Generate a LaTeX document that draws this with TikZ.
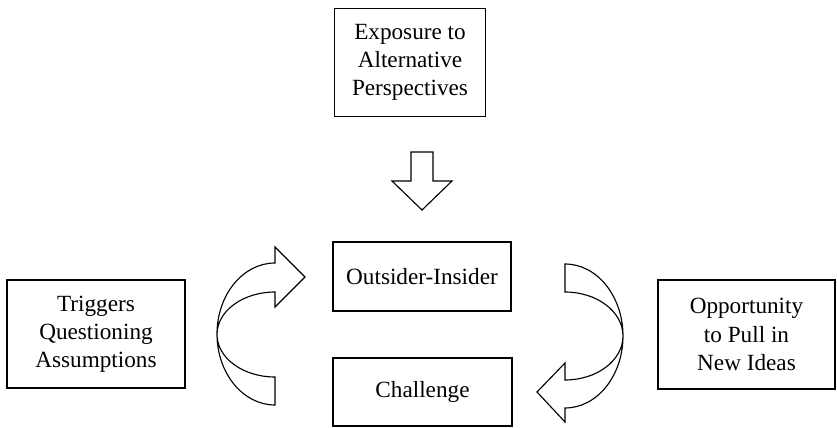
\documentclass[tikz,border=0pt]{standalone}
\usepackage{fontspec}
\setmainfont{Liberation Serif}
\usepackage{tikz}

\begin{document}
\begin{tikzpicture}[x=0.025cm, y=0.025cm,
    box/.style={draw, line width=0.8pt, align=center, inner sep=0pt,
        font=\fontsize{16.5}{20}\selectfont},
    bigarrow/.style={draw, line width=0.8pt, line join=miter}]

    % Cadre de l'image
    \useasboundingbox (0,0) rectangle (837,428);

    % Boites
    \node[box, minimum width=3.775cm, minimum height=2.7cm] (expo) at (410,365.5) {Exposure to\\Alternative\\Perspectives};
    \node[box, minimum width=4.45cm, minimum height=1.725cm] (outins) at (422,151.5) {Outsider-Insider};
    \node[box, minimum width=4.475cm, minimum height=1.7cm] (chal) at (422.5,36) {Challenge};
    \node[box, minimum width=4.45cm, minimum height=2.7cm] (trig) at (96,94) {Triggers\\Questioning\\Assumptions};
    \node[box, minimum width=4.425cm, minimum height=2.725cm] (oppo) at (746.5,93.5) {Opportunity\\to Pull in\\New Ideas};

    % Fleche vers le bas
    \draw[bigarrow] (411,276) -- (433,276) -- (433,247) -- (452,247) -- (422,218)
        -- (392,247) -- (411,247) -- cycle;

    % Fleche courbe a gauche
    \draw[bigarrow] (275,23) arc[start angle=270, end angle=90, x radius=58, y radius=71]
        -- (275,181) -- (305,151) -- (275,121) -- (275,136)
        arc[start angle=90, end angle=270, x radius=58, y radius=42.5] -- cycle;

    % Fleche courbe a droite
    \draw[bigarrow] (565,164) arc[start angle=90, end angle=-90, x radius=58, y radius=72]
        -- (565,6) -- (537,36) -- (565,65) -- (565,48)
        arc[start angle=-90, end angle=90, x radius=58, y radius=44] -- cycle;

\end{tikzpicture}
\end{document}
